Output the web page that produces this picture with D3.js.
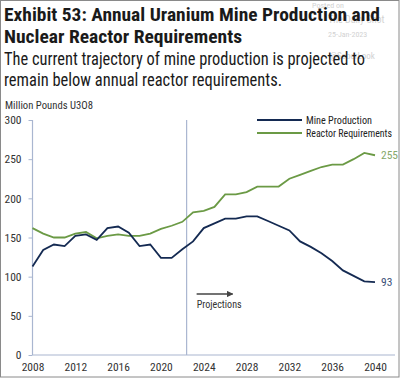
<!DOCTYPE html>
<html><head><meta charset="utf-8">
<script src="https://cdn.jsdelivr.net/npm/d3@7"></script>
<style>
html,body{margin:0;padding:0;background:#fff;}
svg{display:block;}
text{font-family:"Liberation Sans Narrow","Roboto Condensed","DejaVu Sans Condensed","Liberation Sans",sans-serif;}
</style></head>
<body>
<svg id="chart" width="400" height="380"></svg>
<script>
const years = d3.range(2008, 2041);
const mineProduction = [113,134,141,139,152,154,147,162,164,156,139,141,124,124,135,145,162,168,174,174,177,177,171,165,159,145,138,130,120,108,101,94,93];
const reactorRequirements = [162,155,150,150,155,157,149,152,154,152,152,155,161,165,170,182,184,189,205,205,208,215,215,215,225,230,235,240,243,243,250,258,255];
const yTicks = [0,50,100,150,200,250,300];
const xTicks = [2008,2012,2016,2020,2024,2028,2032,2036,2040];
const seriesNames = ["Mine Production","Reactor Requirements"];
const projectionYear = 2022.4;

const navy = "#142a52", green = "#6b9a45", axisCol = "#a9b6d0";
const svg = d3.select("#chart");

// frame
svg.append("rect").attr("x",0.5).attr("y",0.5).attr("width",398.5).attr("height",376.5)
  .attr("fill","none").attr("stroke","#8a8a8a").attr("stroke-width",1);

// watermark
const wm = [["Posted on",312,8,8],["The Daily Shot",328,23,10],["25-Jan-2023",328,37,8],["@SoberLook",330,59,9]];
wm.forEach(w=>svg.append("text").attr("x",w[1]).attr("y",w[2]).attr("font-size",w[3])
  .attr("fill","#d2d2d2").attr("font-family","Liberation Sans, Arial, sans-serif").text(w[0]));

// titles
svg.append("text").attr("x",4).attr("y",21).attr("font-size",17.5).attr("font-weight","bold").attr("fill","#1a1a1a")
  .attr("textLength",376).attr("lengthAdjust","spacingAndGlyphs").text("Exhibit 53: Annual Uranium Mine Production and");
svg.append("text").attr("x",4).attr("y",43).attr("font-size",17.5).attr("font-weight","bold").attr("fill","#1a1a1a")
  .attr("textLength",238).attr("lengthAdjust","spacingAndGlyphs").text("Nuclear Reactor Requirements");
svg.append("text").attr("x",4).attr("y",65).attr("font-size",17.5).attr("fill","#1a1a1a")
  .attr("textLength",361).attr("lengthAdjust","spacingAndGlyphs").text("The current trajectory of mine production is projected to");
svg.append("text").attr("x",4).attr("y",86).attr("font-size",17.5).attr("fill","#1a1a1a")
  .attr("textLength",278).attr("lengthAdjust","spacingAndGlyphs").text("remain below annual reactor requirements.");
svg.append("text").attr("x",5).attr("y",109).attr("font-size",10).attr("fill","#333")
  .attr("textLength",88).attr("lengthAdjust","spacingAndGlyphs").text("Million Pounds U3O8");

const x = d3.scaleLinear().domain([2008,2040]).range([32.5,375]);
const y = d3.scaleLinear().domain([0,300]).range([355,120]);

// left axis
const ya = svg.append("g").attr("transform","translate(32.5,0)")
  .call(d3.axisLeft(y).tickValues(yTicks).tickSize(4).tickPadding(7));
ya.select(".domain").attr("stroke",axisCol).attr("stroke-width",1.2).attr("d","M0,120V355");
ya.selectAll(".tick line").attr("stroke",axisCol);
ya.selectAll("text").attr("font-size",11.5).attr("fill","#333");

// bottom axis
const xa = svg.append("g").attr("transform","translate(0,355)")
  .call(d3.axisBottom(x).tickValues(xTicks).tickFormat(d3.format("d")).tickSize(0).tickPadding(8));
xa.select(".domain").attr("stroke",axisCol).attr("stroke-width",1.2).attr("d","M32.5,0H395");
xa.selectAll("text").attr("font-size",11.5).attr("fill","#333");

// projection line
svg.append("line").attr("x1",x(projectionYear)).attr("x2",x(projectionYear)).attr("y1",y(300)).attr("y2",y(0))
  .attr("stroke",axisCol).attr("stroke-width",1.2);
// arrow
svg.append("defs").append("marker").attr("id","arr").attr("viewBox","0 0 10 10").attr("refX",9).attr("refY",5)
  .attr("markerWidth",5).attr("markerHeight",5).attr("orient","auto")
  .append("path").attr("d","M0,0L10,5L0,10z").attr("fill","#444");
svg.append("line").attr("x1",x(projectionYear)+10).attr("x2",x(projectionYear)+46).attr("y1",294).attr("y2",294)
  .attr("stroke","#444").attr("stroke-width",1.3).attr("marker-end","url(#arr)");
svg.append("text").attr("x",x(projectionYear)+10).attr("y",308).attr("font-size",10.5).attr("fill","#333")
  .attr("textLength",45).attr("lengthAdjust","spacingAndGlyphs").text("Projections");

const line = d3.line().x((d,i)=>x(years[i])).y(d=>y(d));
svg.append("path").datum(reactorRequirements).attr("d",line).attr("fill","none").attr("stroke",green).attr("stroke-width",1.8);
svg.append("path").datum(mineProduction).attr("d",line).attr("fill","none").attr("stroke",navy).attr("stroke-width",1.8);

// end labels
svg.append("text").attr("x",x(2040)+6).attr("y",y(reactorRequirements[32])+4).attr("font-size",11.5).attr("fill","#86a86a")
  .text(reactorRequirements[32]);
svg.append("text").attr("x",x(2040)+6).attr("y",y(mineProduction[32])+4).attr("font-size",11.5).attr("fill","#3b4f78")
  .text(mineProduction[32]);

// legend
const leg = [[seriesNames[0],navy,120,66],[seriesNames[1],green,133,86]];
leg.forEach(l=>{
  svg.append("line").attr("x1",257).attr("x2",302).attr("y1",l[2]).attr("y2",l[2]).attr("stroke",l[1]).attr("stroke-width",1.8);
  svg.append("text").attr("x",306).attr("y",l[2]+4).attr("font-size",10).attr("fill","#222")
    .attr("textLength",l[3]).attr("lengthAdjust","spacingAndGlyphs").text(l[0]);
});
</script>
</body></html>
